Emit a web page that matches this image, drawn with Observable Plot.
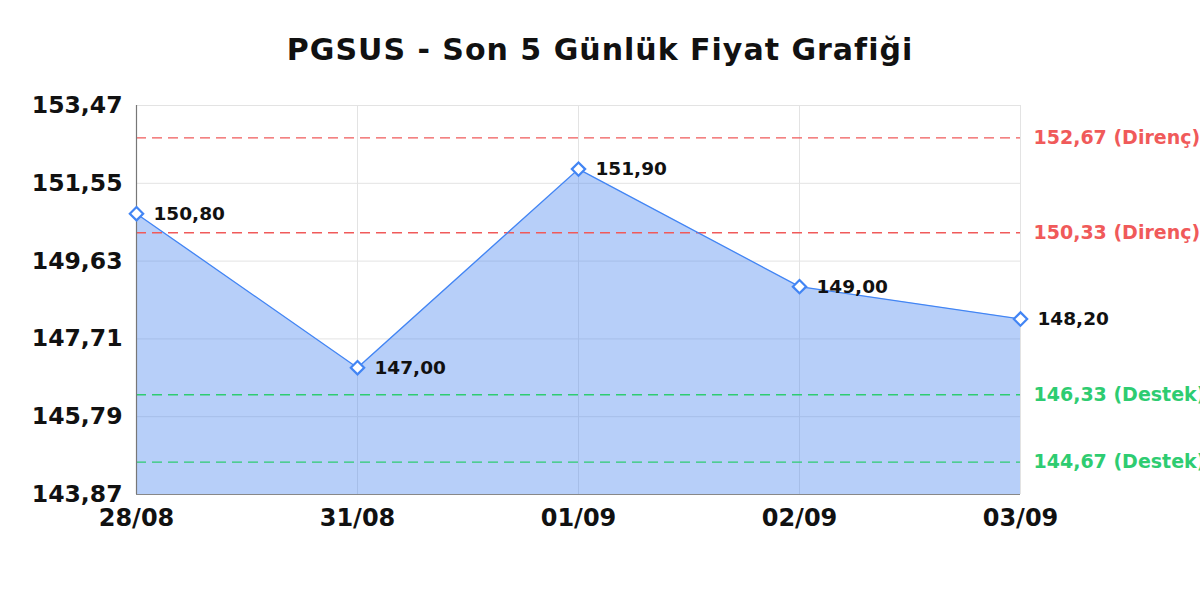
<!DOCTYPE html>
<html>
<head>
<meta charset="utf-8">
<script src="https://cdn.jsdelivr.net/npm/d3@7"></script>
<script src="https://cdn.jsdelivr.net/npm/@observablehq/plot@0.6"></script>
<style>
  html, body { margin: 0; padding: 0; background: #fff; overflow: hidden; }
  #title { box-sizing: border-box; height: 80px; padding-top: 10px; line-height: 80px; text-align: center; font-family: "DejaVu Sans", sans-serif; font-weight: bold; font-size: 30px; letter-spacing: 1px; color: #111; white-space: nowrap; }
  #chart svg { display: block; }
</style>
</head>
<body>
<div id="title">PGSUS - Son 5 Günlük Fiyat Grafiği</div>
<div id="chart"></div>
<script>
const dates = ["28/08", "31/08", "01/09", "02/09", "03/09"];
const prices = [150.80, 147.00, 151.90, 149.00, 148.20];
const yTicks = [143.87, 145.79, 147.71, 149.63, 151.55, 153.47];
const resistance = [152.67, 150.33];
const support = [146.33, 144.67];

const yMin = 143.87, yMax = 153.47;
const fmt = v => d3.format(".2f")(v).replace(".", ",");
const data = dates.map((d, i) => ({date: d, close: prices[i]}));
const levels = [
  ...resistance.map(v => ({v, label: fmt(v) + " (Direnç)", color: "#f05a5a"})),
  ...support.map(v => ({v, label: fmt(v) + " (Destek)", color: "#2ecc71"}))
];
const lastDate = dates[dates.length - 1];

const chart = Plot.plot({
  width: 1200,
  height: 520,
  marginTop: 25,
  marginBottom: 106,
  marginLeft: 136,
  marginRight: 180,
  style: {fontFamily: "DejaVu Sans, sans-serif", background: "#fff"},
  x: {type: "point", domain: dates, padding: 0, label: null},
  y: {domain: [yMin, yMax], label: null},
  marks: [
    Plot.gridX(dates, {stroke: "#e3e3e3", strokeOpacity: 1}),
    Plot.gridY(yTicks, {stroke: "#e3e3e3", strokeOpacity: 1}),
    Plot.areaY(data, {x: "date", y1: () => yMin, y2: "close", fill: "#4a86f0", fillOpacity: 0.4, curve: "linear"}),
    Plot.ruleY(levels, {y: "v", stroke: "color", strokeDasharray: "10,6", strokeWidth: 1.4}),
    Plot.lineY(data, {x: "date", y: "close", stroke: "#4285f4", strokeWidth: 1.3}),
    Plot.ruleX([dates[0]], {stroke: "#777", strokeWidth: 1.2}),
    Plot.ruleY([yMin], {stroke: "#888", strokeWidth: 1.2}),
    Plot.dot(data, {x: "date", y: "close", symbol: "diamond2", r: 6, fill: "#fff", stroke: "#4285f4", strokeWidth: 2.2}),
    Plot.text(data, {x: "date", y: "close", text: d => fmt(d.close), dx: 17, textAnchor: "start", fontSize: 18.5, fontWeight: "bold", fill: "#111"}),
    Plot.text(levels, {x: () => lastDate, y: "v", text: "label", fill: "color", dx: 13, textAnchor: "start", fontSize: 19, fontWeight: "bold"}),
    Plot.axisY(yTicks, {tickFormat: fmt, tickSize: 0, tickPadding: 14, fontSize: 23.5, fontWeight: "bold", fill: "#111"}),
    Plot.axisX(dates, {tickSize: 0, tickPadding: 14, fontSize: 24, fontWeight: "bold", fill: "#111"})
  ]
});
document.getElementById("chart").appendChild(chart);
</script>
</body>
</html>
